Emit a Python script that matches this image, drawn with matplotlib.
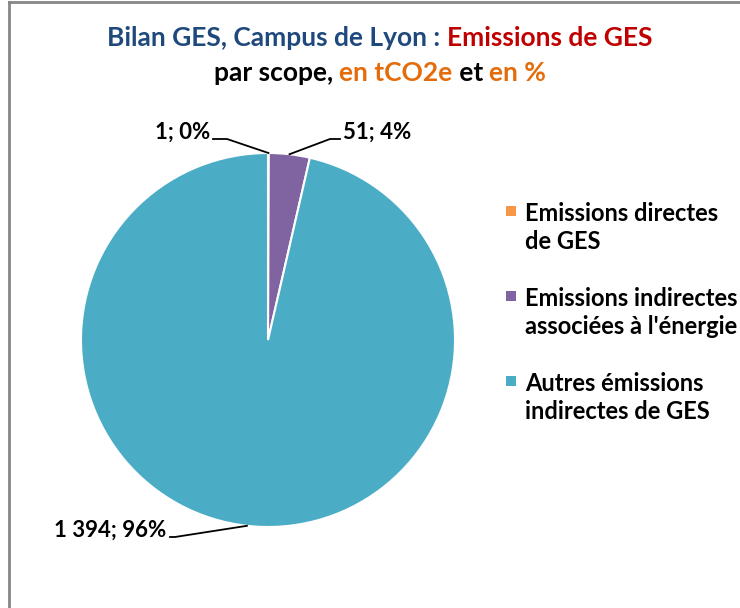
import numpy as np
import matplotlib.pyplot as plt
from matplotlib.lines import Line2D
from matplotlib.patches import Rectangle

plt.rcParams['font.family'] = ['Lato', 'DejaVu Sans']
plt.rcParams['font.weight'] = 'bold'

# data
labels = ["Emissions directes\nde GES",
          "Emissions indirectes\nassociées à l'énergie",
          "Autres émissions\nindirectes de GES"]
values = [1, 51, 1394]
value_labels = ["1", "51", "1 394"]
colors = ["#F79646", "#8064A2", "#4BACC6"]

title_line1 = [("Bilan GES, Campus de Lyon : ", "#1F497D"), ("Emissions de GES", "#C00000")]
title_line2 = [("par scope, ", "black"), ("en tCO2e", "#E46C0A"), (" et ", "black"), ("en %", "#E46C0A")]

W, H = 740, 608
fig = plt.figure(figsize=(W / 100, H / 100), dpi=100)

# frame of the chart area (only top and left edges are inside the picture)
fig.add_artist(Line2D([8.5 / W, 8.5 / W], [0, 1 - 1.5 / H], color="#868686", lw=2))
fig.add_artist(Line2D([8.5 / W, 1], [1 - 1.5 / H, 1 - 1.5 / H], color="#868686", lw=2))

# pie
cx, cy, r = 268, 340, 187
ax = fig.add_axes([(cx - r) / W, (H - cy - r) / H, 2 * r / W, 2 * r / H])
wedges, _ = ax.pie(values, colors=colors, startangle=90, counterclock=False,
                   wedgeprops=dict(edgecolor="white", linewidth=1.5))
ax.set_xlim(-1, 1)
ax.set_ylim(-1, 1)


def px(x, y):
    return (x - cx) / r, (cy - y) / r


# label layout in pixels: elbow, line end, text anchor, alignment
label_pos = [
    ((227, 139), (213, 139), (210, 132), "right"),
    ((330, 139), (340, 139), (343, 132), "left"),
    ((175, 537), (170, 537), (166, 530), "right"),
]

total = sum(values)
for w, v, vl, (elb, end, txt, ha) in zip(wedges, values, value_labels, label_pos):
    th = np.deg2rad((w.theta1 + w.theta2) / 2)
    x0, y0 = np.cos(th), np.sin(th)
    ex, ey = px(*elb)
    nx, ny = px(*end)
    ax.plot([x0, ex, nx], [y0, ey, ny], color="black", lw=1.3, clip_on=False)
    tx, ty = px(*txt)
    ax.text(tx, ty, f"{vl}; {round(v / total * 100)}%", ha=ha, va="center",
            fontsize=16, fontweight="bold", color="black")

# legend (first-line baselines in pixels)
leg_base = [221, 306, 391]
line_gap = 28
for lab, c, y in zip(labels, colors, leg_base):
    fig.patches.append(Rectangle((506 / W, (H - y + 5) / H), 10 / W, 10 / H,
                                 facecolor=c, edgecolor="none", transform=fig.transFigure))
    for i, part in enumerate(lab.split("\n")):
        fig.text(525 / W, (H - y - i * line_gap) / H, part, ha="left", va="baseline",
                 fontsize=17, fontweight="bold", color="black")

# multi-coloured title
fig.canvas.draw()
renderer = fig.canvas.get_renderer()


def colored_line(parts, yc, size):
    texts = []
    for s, c in parts:
        texts.append(fig.text(0, (H - yc) / H, s, color=c, fontsize=size,
                              fontweight="bold", ha="left", va="center"))
    widths = [t.get_window_extent(renderer).width for t in texts]
    x = 380 - sum(widths) / 2
    for t, wd in zip(texts, widths):
        t.set_x(x / W)
        x += wd


colored_line(title_line1, 38, 19)
colored_line(title_line2, 73, 19)

fig.savefig("out.png", dpi=100)
